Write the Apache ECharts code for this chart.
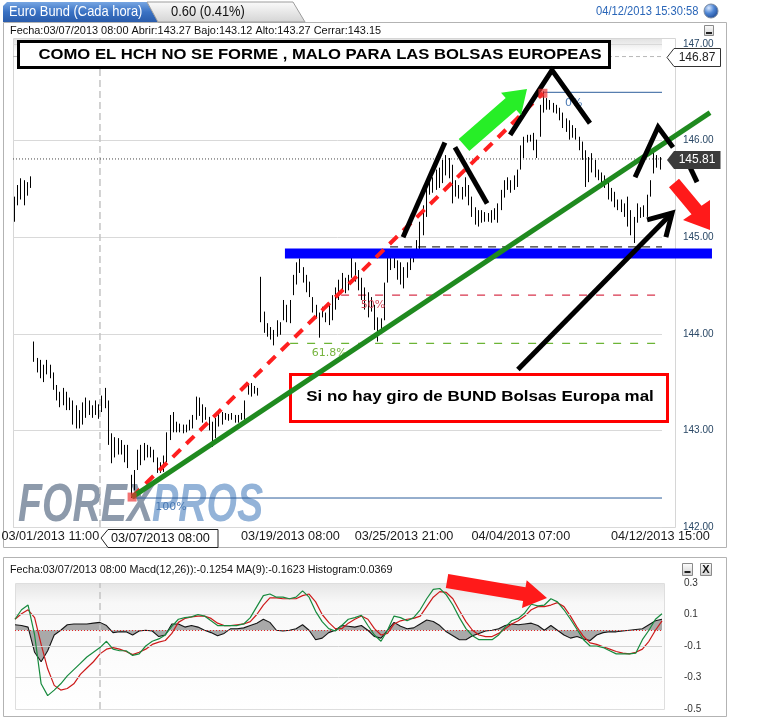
<!DOCTYPE html>
<html>
<head>
<meta charset="utf-8">
<script src="https://cdn.jsdelivr.net/npm/echarts@6.0.0/dist/echarts.min.js"></script>
<style>
html,body{margin:0;padding:0;background:#fff;}
#chart{width:770px;height:720px;}
</style>
</head>
<body>
<div id="chart"></div>
<script>
// ================= DATA =================
// hourly Euro Bund bars (low / high)
const barLows = [
145.16,145.33,145.39,145.33,145.43,145.51,143.71,143.60,143.54,143.50,
143.58,143.54,143.42,143.31,143.24,143.26,143.21,143.21,143.06,143.02,
143.02,143.06,143.13,143.16,143.13,143.16,143.12,143.19,143.23,142.85,
142.66,142.72,142.75,142.75,142.67,142.61,142.30,142.38,142.59,142.64,
142.69,142.72,142.72,142.67,142.56,142.56,142.57,142.67,142.90,142.98,
142.98,142.98,142.97,142.98,143.00,143.02,143.11,143.15,143.08,143.11,
143.00,142.83,142.92,143.04,143.06,143.11,143.10,143.11,143.08,143.08,
143.11,143.11,143.37,143.35,143.38,143.36,144.12,144.01,143.97,143.94,
143.88,143.97,143.99,144.14,144.12,144.11,144.40,144.51,144.63,144.53,
144.43,144.38,144.22,144.16,143.96,144.17,144.12,144.09,144.14,144.25,
144.35,144.45,144.42,144.45,144.58,144.54,144.45,144.35,144.25,144.17,
144.23,144.04,143.92,144.02,144.14,144.53,144.66,144.68,144.56,144.51,
144.47,144.58,144.66,144.74,144.82,144.87,145.02,145.21,145.44,145.46,
145.49,145.51,145.56,145.64,145.61,145.35,145.42,145.40,145.39,145.42,
145.33,145.21,145.13,145.11,145.15,145.16,145.16,145.15,145.18,145.15,
145.28,145.41,145.49,145.46,145.49,145.52,145.70,145.82,145.98,145.99,
145.90,145.82,146.04,146.29,146.32,146.32,146.29,146.28,146.21,146.13,
146.09,146.01,146.03,146.01,145.90,145.80,145.52,145.57,145.67,145.62,
145.59,145.54,145.51,145.39,145.37,145.31,145.28,145.26,145.21,145.11,
145.02,144.94,145.15,145.20,145.21,145.21,145.42,145.66,145.72,145.70
];
const barHighs = [
145.42,145.54,145.61,145.59,145.57,145.63,143.92,143.75,143.73,143.68,
143.73,143.68,143.60,143.47,143.40,143.44,143.40,143.34,143.31,143.26,
143.21,143.29,143.34,143.31,143.26,143.31,143.27,143.36,143.44,143.31,
142.97,142.93,142.92,142.90,142.85,142.85,142.54,142.59,142.80,142.85,
142.87,142.85,142.83,142.80,142.72,142.67,142.74,142.98,143.16,143.19,
143.09,143.07,143.06,143.06,143.11,143.16,143.35,143.34,143.27,143.24,
143.14,143.09,143.13,143.21,143.19,143.18,143.17,143.18,143.16,143.16,
143.18,143.31,143.49,143.49,143.46,143.44,144.59,144.23,144.11,144.07,
144.04,144.14,144.12,144.35,144.30,144.35,144.61,144.74,144.78,144.69,
144.61,144.54,144.38,144.30,144.22,144.28,144.22,144.30,144.40,144.48,
144.56,144.63,144.58,144.61,144.80,144.74,144.66,144.58,144.48,144.43,
144.38,144.30,144.17,144.16,144.53,144.82,144.87,144.85,144.76,144.74,
144.69,144.74,144.82,144.87,144.97,145.16,145.33,145.56,145.61,145.62,
145.70,145.72,145.80,145.85,145.82,145.75,145.59,145.54,145.52,145.62,
145.54,145.42,145.31,145.28,145.28,145.26,145.25,145.28,145.30,145.35,
145.49,145.59,145.62,145.59,145.64,145.70,145.95,146.04,146.06,146.06,
146.08,146.01,146.37,146.51,146.44,146.42,146.39,146.37,146.34,146.29,
146.23,146.21,146.16,146.13,146.04,145.99,145.90,145.83,145.87,145.80,
145.70,145.67,145.64,145.59,145.51,145.47,145.39,145.39,145.35,145.42,
145.28,145.21,145.35,145.31,145.33,145.44,145.59,145.90,145.85,145.83
];
const barCategories = barLows.map((_, i) => String(i));
const xTickIndex = [11, 47, 85, 120, 156, 199];
const xTickLabels = ['03/01/2013 11:00', '03/13/2013 03:00', '03/19/2013 08:00', '03/25/2013 21:00', '04/04/2013 07:00', '04/12/2013 15:00'];
const lastPrice = 145.81;
const refPrice = 146.87;
// Fibonacci levels: 0%, 38.2%, 50%, 61.8%, 100%
const fibLevels = [146.50, 144.90, 144.40, 143.90, 142.30];

// MACD panel
const macdLine = [
0.07,0.13,0.16,-0.03,-0.34,-0.415,-0.38,-0.34,-0.29,-0.25,
-0.21,-0.17,-0.14,-0.11,-0.07,-0.12,-0.13,-0.13,-0.16,-0.15,
-0.10,-0.07,-0.055,-0.03,0.025,0.07,0.08,0.085,0.10,0.09,
0.06,0.03,0.03,0.03,0.03,0.04,0.08,0.15,0.22,0.23,
0.21,0.21,0.20,0.21,0.25,0.21,0.12,0.055,0.01,-0.005,
0.03,0.07,0.08,0.095,0.03,-0.03,-0.07,0.0,0.09,0.08,
0.06,0.08,0.13,0.20,0.26,0.265,0.225,0.16,0.08,0.01,
-0.035,-0.06,-0.06,-0.06,-0.03,0.02,0.06,0.075,0.11,0.165,
0.155,0.16,0.20,0.18,0.13,0.07,0.005,-0.06,-0.10,-0.10,
-0.11,-0.13,-0.15,-0.15,-0.15,-0.145,-0.06,0.0,0.07,0.105
];
const signalLine = [
0.07,0.105,0.13,0.08,-0.09,-0.245,-0.35,-0.38,-0.37,-0.34,
-0.28,-0.24,-0.20,-0.15,-0.12,-0.11,-0.12,-0.135,-0.155,-0.14,
-0.12,-0.09,-0.075,-0.065,-0.02,0.05,0.075,0.085,0.09,0.09,
0.075,0.045,0.03,0.03,0.035,0.04,0.055,0.10,0.16,0.205,
0.205,0.20,0.20,0.20,0.22,0.23,0.18,0.10,0.05,0.01,
0.01,0.045,0.07,0.09,0.07,0.01,-0.03,-0.02,0.04,0.06,
0.07,0.075,0.09,0.15,0.21,0.245,0.24,0.20,0.125,0.055,
0.0,-0.03,-0.04,-0.04,-0.02,0.01,0.04,0.06,0.09,0.13,
0.15,0.15,0.16,0.175,0.15,0.09,0.02,-0.04,-0.08,-0.09,
-0.105,-0.12,-0.135,-0.145,-0.15,-0.14,-0.12,-0.07,0.0,0.06
];
const histogram = [
0.035,0.03,0.02,-0.14,-0.20,-0.13,-0.03,0.0,0.035,0.04,
0.04,0.04,0.045,0.05,0.03,-0.015,-0.01,-0.01,-0.03,-0.005,
0.0,-0.005,-0.04,-0.03,0.04,0.04,0.02,0.03,0.02,0.0,
-0.015,-0.035,-0.02,0.01,0.01,0.015,0.03,0.045,0.07,0.05,
0.0,-0.005,0.0,0.01,0.035,0.0,-0.06,-0.05,-0.015,0.0,
0.03,0.025,0.02,0.03,0.0,-0.04,-0.05,0.0,0.05,0.025,
0.01,0.015,0.04,0.065,0.055,0.03,-0.01,-0.035,-0.06,-0.06,
-0.035,-0.02,-0.005,0.0,0.01,0.03,0.04,0.035,0.04,0.045,
0.03,0.0,0.03,0.0,-0.03,-0.05,-0.04,-0.055,-0.065,-0.03,
-0.015,-0.01,-0.01,-0.005,0.0,0.005,0.01,0.035,0.06,0.07
];
const macdCategories = macdLine.map((_, i) => String(i));
const macdTickLabels = ['0.3', '0.1', '-0.1', '-0.3', '-0.5'];
const macdGridValues = [0.1, -0.1, -0.3];

// ============ ANNOTATIONS (bar index, price) ============
const fibStart = [163, 115.7, 100.6, 84.9, 36.2];
const greenTrend = [[36.2, 142.31], [214.3, 146.29]];
const redChannel = [[36.2, 142.31], [162.8, 146.49]];
const supportBand = [[83.3, 144.83], [214.9, 144.83]];
const hchStrokes = [
  [[119.7, 145.00], [132.6, 145.98]],
  [[135.7, 145.93], [145.6, 145.35]],
  [[152.7, 146.06], [165.6, 146.73], [177.3, 146.18]],
  [[191.2, 145.62], [198.3, 146.14], [202.9, 145.93]],
  [[207.5, 145.77], [210.3, 145.57]]
];
const blackArrowShaft = [[155.1, 143.63], [202.6, 145.25]];
const blackArrowHead = [[194.9, 145.18], [202.6, 145.25], [200.7, 145.00]];
const crossIndex = 26.3;
const macdCrossIndex = 13;
const fibLabels = [
  {text: '0%', at: [169.6, 146.39], color: '#4a7ab4'},
  {text: '100%', at: [43.3, 142.21], color: '#4a7ab4'},
  {text: '50%', at: [106.7, 144.30], color: '#d24a5c'},
  {text: '61.8%', at: [91.6, 143.80], color: '#76b43e'}
];

// ================= CHART =================
const FONT = "'Liberation Sans', Arial, sans-serif";
const chart = echarts.init(document.getElementById('chart'), null, {renderer: 'canvas'});
const tickMap = {};
xTickIndex.forEach((k, i) => { tickMap[k] = xTickLabels[i]; });
const LG = (x0, y0, x1, y1, stops) => new echarts.graphic.LinearGradient(x0, y0, x1, y1, stops.map(c => ({offset: c[0], color: c[1]})));

// annotation layer: grid 2 shares the price scale and the bar spacing of grid 0, but extends to the right
function seg(data, style, z) {
  return {type: 'line', xAxisIndex: 2, yAxisIndex: 2, data: data, symbol: 'none', silent: true, clip: false,
    z: z, animation: false, lineStyle: Object.assign({cap: 'butt', join: 'miter'}, style)};
}

const series = [];
series.push(seg([[crossIndex, 142], [crossIndex, 147.06]], {color: '#c4c4c4', width: 1.5, type: [7, 4]}, 1));
series.push(seg([[-0.5, refPrice], [199.5, refPrice]], {color: '#b8b8b8', width: 1, type: [4, 3]}, 1));
series.push(seg([[-0.5, lastPrice], [199.5, lastPrice]], {color: '#444', width: 1, type: [1, 2]}, 2));
const fibStyles = [
  {color: '#2d5e9c', width: 1},
  {color: '#333333', width: 1.3, type: [8, 6]},
  {color: '#d8344c', width: 1.2, type: [8, 9]},
  {color: '#6cb536', width: 1.2, type: [8, 9]},
  {color: '#2d5e9c', width: 1}
];
fibLevels.forEach((lv, k) => series.push(seg([[fibStart[k], lv], [199.5, lv]], fibStyles[k], 2)));

series.push({
  type: 'candlestick', xAxisIndex: 0, yAxisIndex: 0, silent: true, z: 3, animation: false,
  data: barLows.map((l, i) => [l, barHighs[i], l, barHighs[i]]),
  barWidth: 1,
  itemStyle: {color: '#000', color0: '#000', borderColor: '#000', borderColor0: '#000', borderWidth: 1}
});

series.push(seg(supportBand, {color: '#0000ff', width: 10}, 4));
series.push(seg(redChannel, {color: '#ff1f1f', width: 4, type: [11, 8]}, 7));
series.push(seg(greenTrend, {color: '#1f8a1f', width: 5}, 8));
hchStrokes.forEach(s => series.push(seg(s, {color: '#000', width: 5}, 8)));
series.push(seg(blackArrowShaft, {color: '#000', width: 5}, 8));
series.push(seg(blackArrowHead, {color: '#000', width: 5}, 8));
series.push({
  type: 'scatter', xAxisIndex: 2, yAxisIndex: 2, silent: true, z: 9, animation: false,
  symbol: 'rect', symbolSize: 9, itemStyle: {color: 'rgba(238,50,50,0.85)'},
  data: [redChannel[0], redChannel[1]]
});

// MACD panel
series.push({
  type: 'line', xAxisIndex: 1, yAxisIndex: 1, data: macdLine, symbol: 'none', silent: true, z: 1,
  lineStyle: {opacity: 0}, animation: false,
  markLine: {silent: true, symbol: ['none', 'none'], label: {show: false}, animation: false,
    data: macdGridValues.map(v => ({yAxis: v, lineStyle: {color: '#d2d2d2', type: 'solid', width: 1}}))
      .concat([{xAxis: macdCrossIndex, lineStyle: {color: '#c4c4c4', type: [7, 4], width: 1.5}}])}
});
series.push({
  type: 'line', xAxisIndex: 1, yAxisIndex: 1, data: histogram, symbol: 'none', silent: true, z: 3, animation: false,
  lineStyle: {color: '#151515', width: 1.1}, areaStyle: {color: '#a9a9a9', opacity: 1}
});
series.push({
  type: 'line', xAxisIndex: 1, yAxisIndex: 1, data: signalLine, symbol: 'none', silent: true, z: 4, animation: false,
  lineStyle: {color: '#cc1a1a', width: 1.2}
});
series.push({
  type: 'line', xAxisIndex: 1, yAxisIndex: 1, data: macdLine, symbol: 'none', silent: true, z: 5, animation: false,
  lineStyle: {color: '#178a3e', width: 1.2},
  markLine: {silent: true, symbol: ['none', 'none'], label: {show: false}, animation: false,
    data: [{yAxis: 0, lineStyle: {color: '#e02828', type: [1, 2], width: 1}}]}
});

const BAND = (662 - 13) / barLows.length;      // pixel width of one bar slot
const PXU = (527 - 44) / (147 - 142);          // pixels per price unit
const option = {
  backgroundColor: '#ffffff',
  animation: false,
  grid: [
    {left: 13, right: 108, top: 44, bottom: 193, outerBoundsMode: 'none'},
    {left: 15, right: 108, top: 583, bottom: 11, outerBoundsMode: 'none'},
    {left: 13, width: 230 * BAND, top: 44 - 0.1 * PXU, height: 5.2 * PXU, outerBoundsMode: 'none'}
  ],
  xAxis: [
    {gridIndex: 0, type: 'category', data: barCategories, boundaryGap: true,
      axisLine: {show: false}, axisTick: {show: false}, splitLine: {show: false},
      axisLabel: {interval: (idx) => tickMap[idx] !== undefined, formatter: (v, idx) => tickMap[idx] || '',
        hideOverlap: false, fontSize: 12.7, fontFamily: FONT, color: '#1a1a1a', margin: 3}},
    {gridIndex: 1, type: 'category', data: macdCategories, boundaryGap: false, show: false},
    {gridIndex: 2, type: 'value', min: -0.5, max: 229.5, show: false}
  ],
  yAxis: [
    {gridIndex: 0, type: 'value', position: 'right', min: 142, max: 147, interval: 1,
      axisLine: {show: false}, axisTick: {show: false},
      axisLabel: {formatter: v => v.toFixed(2), fontSize: 10, fontFamily: FONT, color: '#2a4866', margin: 21},
      splitLine: {lineStyle: {color: '#d9d9d9', width: 1}}},
    {gridIndex: 1, type: 'value', position: 'right', min: -0.5, max: 0.3, interval: 0.1,
      axisLine: {show: false}, axisTick: {show: false}, splitLine: {show: false},
      axisLabel: {formatter: v => { const s = (Math.round(v * 10) / 10).toString(); return macdTickLabels.indexOf(s) >= 0 ? s : ''; },
        fontSize: 10, fontFamily: FONT, color: '#333', margin: 22}},
    {gridIndex: 2, type: 'value', min: 141.9, max: 147.1, show: false}
  ],
  series: series
};
chart.setOption(option);

// ---------- static page furniture & annotations ----------
function txt(x, y, text, font, fill, extra) {
  const st = {text: text, font: font, fill: fill, textAlign: 'left', align: 'left', textVerticalAlign: 'middle', verticalAlign: 'middle'};
  const el = {type: 'text', x: x, y: y, style: st, z: 10, silent: true};
  if (extra) {
    if (extra.align) { st.textAlign = extra.align; st.align = extra.align; }
    if (extra.scaleX) el.scaleX = extra.scaleX;
    if (extra.z !== undefined) el.z = extra.z;
  }
  return el;
}
function poly(points, fill, z, stroke) {
  const st = {fill: fill};
  if (stroke) { st.stroke = stroke; st.lineWidth = 1; }
  return {type: 'polygon', shape: {points: points}, style: st, z: z, silent: true};
}
function rect(x, y, w, h, fill, stroke, lw, z) {
  return {type: 'rect', shape: {x: x, y: y, width: w, height: h}, style: {fill: fill, stroke: stroke, lineWidth: lw}, z: z, silent: true};
}

const g = [];
// panels
g.push(rect(3.5, 22.5, 723, 525, '#ffffff', '#b3b3b3', 1, -6));
g.push(rect(14, 39, 648, 13, LG(0, 0, 0, 1, [[0, '#e2e2e2'], [1, '#ffffff']]), null, 0, -5));
g.push(rect(13.5, 38.5, 662, 489, 'none', '#d6d6d6', 1, -4));
g.push(rect(3.5, 557.5, 723, 159, '#ffffff', '#b3b3b3', 1, -6));
g.push(rect(15, 584, 650, 126, LG(0, 0, 0, 1, [[0, '#e6e6e6'], [0.15, '#f8f8f8'], [1, '#ffffff']]), null, 0, -5));
g.push(rect(15.5, 583.5, 649, 126, 'none', '#dedede', 1, -4));

// tabs
g.push(poly([[3, 22], [3, 6], [7, 2], [147, 2], [158, 22]], LG(0, 0, 0, 1, [[0, '#77a6e2'], [0.5, '#3a72c4'], [1, '#2a5cab']]), 11));
g.push(txt(9, 12, 'Euro Bund (Cada hora)', '15px ' + FONT, '#ffffff', {scaleX: 0.86, z: 12}));
g.push(poly([[147, 2], [293, 2], [305, 22], [158, 22]], LG(0, 0, 0, 1, [[0, '#fbfbfb'], [1, '#d4d4d4']]), 13, '#9c9c9c'));
g.push(txt(171, 12, '0.60 (0.41%)', '15px ' + FONT, '#111111', {scaleX: 0.86, z: 14}));
g.push(txt(596, 12, '04/12/2013 15:30:58', '12px ' + FONT, '#2a66b8', {scaleX: 0.93}));
g.push({type: 'circle', shape: {cx: 711, cy: 11, r: 7}, z: 10, silent: true,
  style: {fill: new echarts.graphic.RadialGradient(0.35, 0.3, 0.8, [{offset: 0, color: '#d8e8ff'}, {offset: 0.45, color: '#4f86d4'}, {offset: 1, color: '#143f8a'}]), stroke: '#7a8aa0', lineWidth: 1}});

// info lines & buttons
g.push(txt(10, 31, 'Fecha:03/07/2013 08:00 Abrir:143.27 Bajo:143.12 Alto:143.27 Cerrar:143.15', '11.5px ' + FONT, '#111111', {scaleX: 0.95}));
g.push(rect(704.5, 25.5, 9, 10, LG(0, 0, 0, 1, [[0, '#ffffff'], [1, '#cfcfcf']]), '#8a8a8a', 1, 10));
g.push(rect(706, 32, 6, 2, '#222', null, 0, 11));
g.push(txt(10, 570, 'Fecha:03/07/2013 08:00 Macd(12,26)):-0.1254 MA(9):-0.1623 Histogram:0.0369', '11.5px ' + FONT, '#111111', {scaleX: 0.935}));
g.push(rect(682.5, 563.5, 10, 12, LG(0, 0, 0, 1, [[0, '#ffffff'], [1, '#cfcfcf']]), '#8a8a8a', 1, 10));
g.push(rect(684.5, 571, 6, 2, '#222', null, 0, 11));
g.push(rect(700.5, 563.5, 11, 12, LG(0, 0, 0, 1, [[0, '#ffffff'], [1, '#cfcfcf']]), '#8a8a8a', 1, 10));
g.push(txt(706, 570, 'X', 'bold 11px ' + FONT, '#111', {align: 'center', z: 11}));

// watermark
g.push(txt(18, 506, 'FOREX', 'italic bold 53px ' + FONT, '#8d9aab', {scaleX: 0.74, z: 1}));
g.push(txt(152, 506, 'PROS', 'italic bold 53px ' + FONT, '#93b3d8', {scaleX: 0.74, z: 1}));

// text boxes
g.push(rect(18.5, 41.5, 591, 26, '#ffffff', '#000000', 3, 6));
g.push(txt(320, 55, 'COMO EL HCH NO SE FORME , MALO PARA LAS BOLSAS EUROPEAS', 'bold 15px ' + FONT, '#000', {align: 'center', scaleX: 1.11, z: 7}));
g.push(rect(290.5, 374.5, 377, 47, '#ffffff', '#ff0000', 3, 6));
g.push(txt(480, 397, 'Si no hay giro de BUND Bolsas Europa mal', 'bold 15px ' + FONT, '#000', {align: 'center', scaleX: 1.13, z: 7}));

// arrows
g.push(poly([[458.7, 139], [505.7, 98], [501, 92.8], [527, 89], [521, 115.2], [516.3, 110], [469.3, 151]], '#27ee27', 9));
g.push(poly([[679, 178.8], [701.5, 205.8], [710, 200], [710, 230], [683, 220], [691.5, 214.2], [669, 187.2]], '#ff1a1a', 9));
g.push(poly([[448.2, 574.1], [525.5, 587.2], [526.7, 580.3], [547, 598], [522, 607.9], [523.1, 601], [445.8, 587.9]], '#ff1a1a', 9));

// tooltip on x axis
g.push(poly([[101, 538], [108, 529.5], [218, 529.5], [218, 547.5], [108, 547.5]], '#ffffff', 12, '#222222'));
g.push(txt(111, 538.5, '03/07/2013 08:00', '12.7px ' + FONT, '#111111', {z: 13}));

// price tags
g.push(poly([[667, 57.5], [674, 48.5], [720.5, 48.5], [720.5, 66.5], [674, 66.5]], '#ffffff', 12, '#333333'));
g.push(txt(697, 57.5, '146.87', '12px ' + FONT, '#222', {align: 'center', z: 13}));
g.push(poly([[667, 160], [674, 151], [720.5, 151], [720.5, 169], [674, 169]], '#3b3b3b', 12));
g.push(txt(697, 160, '145.81', '12px ' + FONT, '#ffffff', {align: 'center', z: 13}));

// Fibonacci labels positioned through the price scale
fibLabels.forEach(f => {
  const p = chart.convertToPixel({seriesIndex: 1}, f.at);
  g.push(txt(p[0], p[1], f.text, "11px 'DejaVu Sans', sans-serif", f.color, {z: 5}));
});

chart.setOption({graphic: {elements: g}});
</script>
</body>
</html>
